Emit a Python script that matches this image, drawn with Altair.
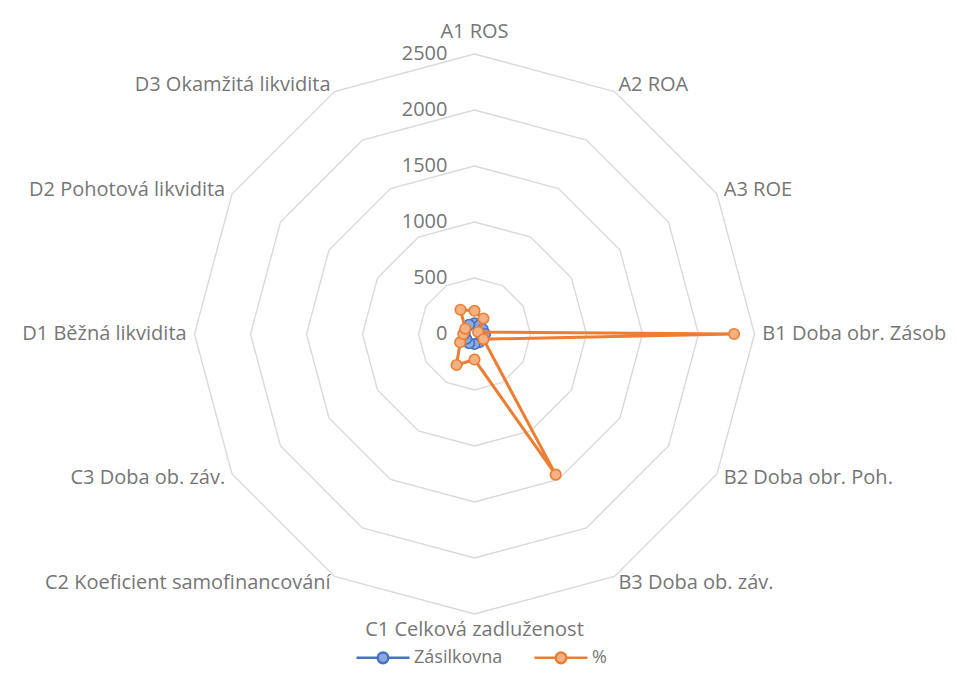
import math
import altair as alt
import pandas as pd

categories = [
    "A1 ROS", "A2 ROA", "A3 ROE", "B1 Doba obr. Zásob", "B2 Doba obr. Poh.",
    "B3 Doba ob. záv.", "C1 Celková zadluženost", "C2 Koeficient samofinancování",
    "C3 Doba ob. záv.", "D1 Běžná likvidita", "D2 Pohotová likvidita", "D3 Okamžitá likvidita",
]
zasilkovna = [95, 90, 85, 95, 90, 85, 90, 95, 85, 90, 90, 95]
procenta = [207, 160, 37, 2318, 92, 1450, 228, 320, 148, 100, 95, 250]
series_names = ["Zásilkovna", "%"]
tick_values = [0, 500, 1000, 1500, 2000, 2500]

LINE_COLORS = ["#4472C4", "#ED7D31"]
FILL_COLORS = ["#8EA9DB", "#F4B183"]
TEXT = "#767676"
FONT = "Open Sans"
FS = 20

W, H = 941, 661
K = 0.112  # px per unit
CX, CY = 466.5, 326.0
xdom = [-CX / K, (W - CX) / K]
ydom = [-(H - CY) / K, CY / K]
n = len(categories)

def ang(i):
    return math.radians(i * 360.0 / n)

rows = []
for s, vals in zip(series_names, [zasilkovna, procenta]):
    for j in range(n + 1):
        i = j % n
        v = vals[i]
        rows.append({"series": s, "cat": categories[i], "value": v, "order": j,
                     "x": v * math.sin(ang(i)), "y": v * math.cos(ang(i))})
df = pd.DataFrame(rows)

ring_rows = []
for t in tick_values[1:]:
    for j in range(n + 1):
        i = j % n
        ring_rows.append({"ring": t, "order": j, "x": t * math.sin(ang(i)), "y": t * math.cos(ang(i))})
rings_df = pd.DataFrame(ring_rows)

lab_rows = []
for i, c in enumerate(categories):
    s, co = math.sin(ang(i)), math.cos(ang(i))
    r = 2570 + (40 if co > 0.99 else (-20 if co < -0.99 else 0))
    lab_rows.append({"cat": c, "x": r * s, "y": r * co,
                     "al": "left" if s > 0.01 else ("right" if s < -0.01 else "center"),
                     "bl": "bottom" if co > 0.99 else ("top" if co < -0.99 else "middle")})
lab_df = pd.DataFrame(lab_rows)

tick_df = pd.DataFrame({"v": tick_values, "label": [str(t) for t in tick_values]})

xs = alt.Scale(domain=xdom, nice=False, zero=False)
ys = alt.Scale(domain=ydom, nice=False, zero=False)
X = lambda f="x": alt.X(f"{f}:Q", scale=xs, axis=None)
Y = lambda f="y": alt.Y(f"{f}:Q", scale=ys, axis=None)

rings = alt.Chart(rings_df).mark_line(color="#D9D9D9", strokeWidth=1.4).encode(
    x=X(), y=Y(), detail="ring:N", order="order:Q")

ticks = alt.Chart(tick_df).mark_text(align="right", baseline="middle", dx=-27,
                                     font=FONT, fontSize=20, color=TEXT).encode(
    x=alt.X("zero:Q", scale=xs, axis=None), y=alt.Y("v:Q", scale=ys, axis=None), text="label:N"
).transform_calculate(zero="0")

label_layers = []
for al in ["left", "right", "center"]:
    for bl in ["top", "middle", "bottom"]:
        sub = lab_df[(lab_df["al"] == al) & (lab_df["bl"] == bl)]
        if len(sub) == 0:
            continue
        label_layers.append(alt.Chart(sub).mark_text(align=al, baseline=bl, font=FONT,
                                                     fontSize=FS, color=TEXT).encode(
            x=X(), y=Y(), text="cat:N"))

sym_path = ("M-1,0L-0.2,0M0.2,0L1,0M-0.2,0A0.2,0.2,0,1,0,0.2,0"
            "A0.2,0.2,0,1,0,-0.2,0")
legend = alt.Legend(title=None, orient="none", direction="horizontal", legendX=347, legendY=621.5,
                    symbolType=sym_path, symbolSize=2809, symbolStrokeWidth=2.5,
                    labelFont=FONT, labelFontSize=18, labelColor=TEXT, labelOffset=3,
                    columnPadding=26, padding=0, symbolOpacity=1)
stroke_scale = alt.Scale(domain=series_names, range=LINE_COLORS)
fill_scale = alt.Scale(domain=series_names, range=FILL_COLORS)

layers = [rings, ticks] + label_layers
for s, lc in zip(series_names, LINE_COLORS):
    sub = df[df["series"] == s]
    layers.append(alt.Chart(sub).mark_line(color=lc, strokeWidth=3).encode(
        x=X(), y=Y(), order="order:Q"))
    layers.append(alt.Chart(sub[sub["order"] < n]).mark_point(filled=False, size=110, strokeWidth=1.6,
                                                              opacity=1).encode(
        x=X(), y=Y(),
        stroke=alt.Stroke("series:N", scale=stroke_scale, legend=legend),
        fill=alt.Fill("series:N", scale=fill_scale, legend=legend)))

chart = alt.layer(*layers).properties(
    width=W, height=H, padding=0, autosize=alt.AutoSizeParams(type="none")
).configure_view(stroke=None)

chart.save("out.html", embed_options={"renderer": "svg", "actions": False})
